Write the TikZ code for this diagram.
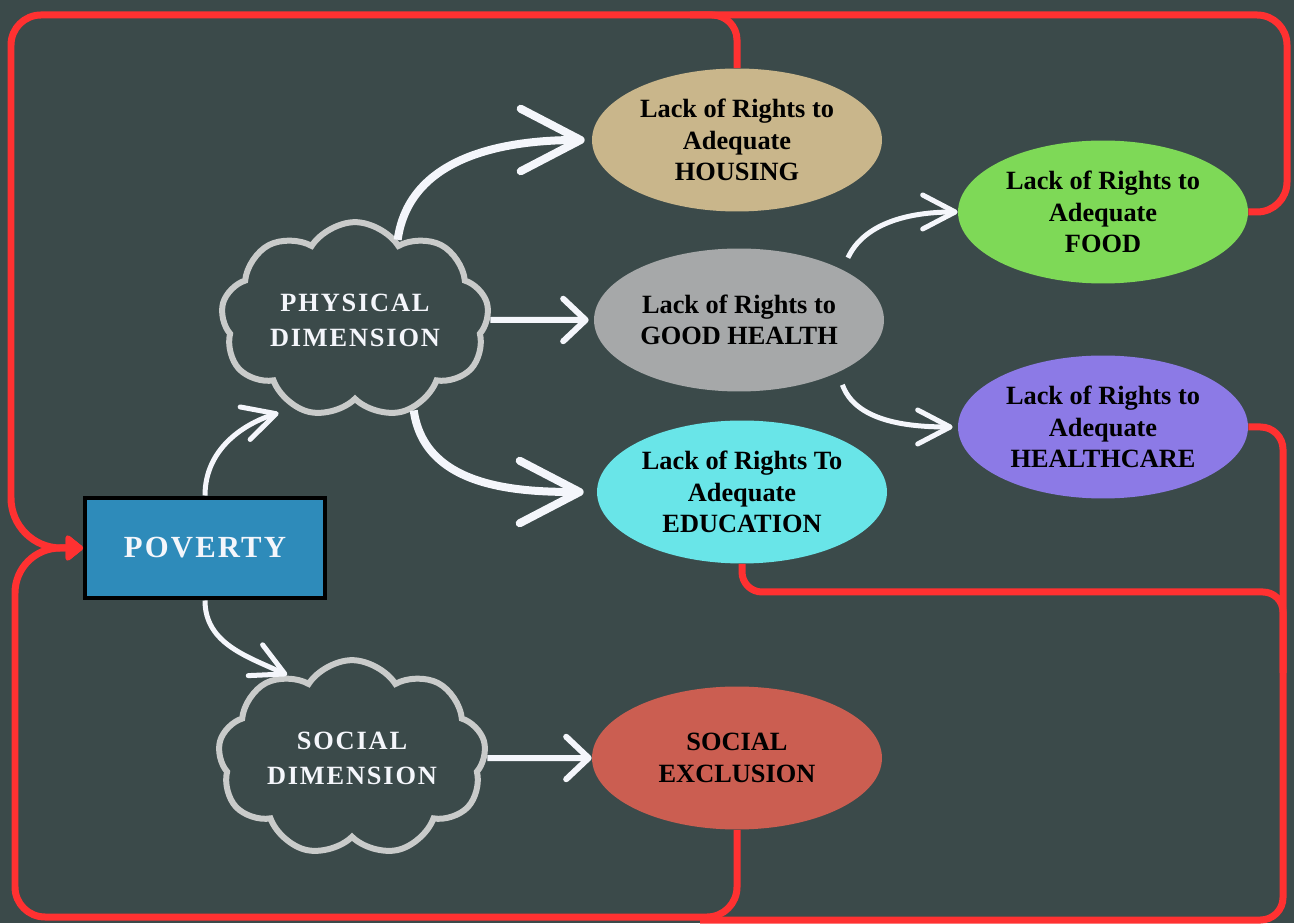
\documentclass[tikz,border=0pt]{standalone}
\usepackage{fontspec}
\setmainfont{Liberation Serif}
\newfontfamily\spacedfont[LetterSpace=7]{Liberation Serif}
\usepackage{tikz}
\usetikzlibrary{positioning, arrows.meta, shapes.symbols, shapes.geometric}
\definecolor{povbg}{HTML}{3B4A4A}
\definecolor{povred}{HTML}{FF3131}
\definecolor{povblue}{HTML}{2E8BBA}
\definecolor{povcloud}{HTML}{C9CBCA}
\definecolor{povwhite}{HTML}{F4F6FB}
\definecolor{povhousing}{HTML}{C9B68B}
\definecolor{povhealth}{HTML}{A6A8A9}
\definecolor{poveducation}{HTML}{69E5E8}
\definecolor{povfood}{HTML}{7ED957}
\definecolor{povhealthcare}{HTML}{8C7AE6}
\definecolor{povexclusion}{HTML}{CB5E51}

\tikzset{
  rights/.style={ellipse, minimum width=5.8cm, minimum height=2.86cm, inner sep=0pt,
    align=center, text=black, font=\fontsize{15}{18}\selectfont\bfseries},
  dimcloud/.style={cloud, cloud puffs=9, cloud puff arc=115, aspect=1.5, draw=povcloud, line width=0.12cm,
    minimum width=5.36cm, minimum height=3.56cm, inner sep=0pt, align=center, text=povwhite,
    font=\spacedfont\fontsize{15}{20}\selectfont\bfseries},
  feedback/.style={draw=povred, line width=0.14cm},
  bigarrow/.style={draw=povwhite, line width=0.16cm, -{Straight Barb[length=1.2cm, width=1.25cm, round]}},
  midarrow/.style={draw=povwhite, line width=0.12cm, -{Straight Barb[length=0.45cm, width=0.85cm, round]}},
  smallarrow/.style={draw=povwhite, line width=0.1cm, -{Straight Barb[length=0.65cm, width=0.68cm, round]}}
}

\begin{document}
\begin{tikzpicture}[x=0.02cm, y=0.02cm]
  \useasboundingbox (0,0) rectangle (1294,923);
  \fill[povbg] (0,0) rectangle (1294,923);

  \node[draw=black, line width=0.08cm, fill=povblue, minimum width=4.8cm, minimum height=2.02cm,
    text=povwhite, font=\spacedfont\fontsize{17.5}{20}\selectfont\bfseries] (poverty) at (205,375) {POVERTY};
  \node[dimcloud] (phys) at (355,603) {PHYSICAL\\DIMENSION};
  \node[dimcloud] (social) at (352,165) {SOCIAL\\DIMENSION};

  \foreach \name/\pos/\col/\txt in {
      housing/{737,783}/povhousing/{Lack of Rights to\\Adequate\\HOUSING},
      health/{739,603}/povhealth/{Lack of Rights to\\GOOD HEALTH},
      education/{742,431}/poveducation/{Lack of Rights To\\Adequate\\EDUCATION},
      food/{1103,711}/povfood/{Lack of Rights to\\Adequate\\FOOD},
      healthcare/{1103,496}/povhealthcare/{Lack of Rights to\\Adequate\\HEALTHCARE},
      exclusion/{737,165}/povexclusion/{SOCIAL\\EXCLUSION}}{
    \node[rights, fill=\col] (\name) at (\pos) {\txt};
  }

  \draw[bigarrow, shorten >=0.14cm] (phys.62) to[out=82, in=180] (housing.west);
  \draw[midarrow, shorten >=0.1cm] (phys.east) -- (health.west);
  \draw[bigarrow, shorten >=0.26cm] (phys.-57) to[out=-82, in=180] (education.west);
  \draw[smallarrow, shorten <=0.26cm] (health.26) to[out=65, in=180] (food.west);
  \draw[smallarrow, shorten <=0.26cm, shorten >=0.1cm] (health.-28) to[out=-70, in=180] (healthcare.west);
  \draw[smallarrow, shorten >=0.3cm] (poverty.north) to[out=90, in=197] (phys.235);
  \draw[smallarrow] (poverty.south) to[out=-90, in=155] (social.128);
  \draw[midarrow] (social.east) -- (exclusion.west);

  \coordinate (topjoin) at (690,908);
  \coordinate (botjoin) at (700,3);
  \coordinate (sidejoin) at (1283,250);
  \draw[feedback] (housing.north) [rounded corners=0.5cm] |- (topjoin);
  \draw[feedback] (education.south) [rounded corners=0.4cm] |- (1283,331) [rounded corners=0.9cm] -- (sidejoin);
  \draw[feedback] (healthcare.east) [rounded corners=0.45cm] -- (1283,496) -- (1283,3) [rounded corners=0.9cm] -- (botjoin);
  \draw[feedback, -{Triangle[length=0.38cm, width=0.58cm, round]}] (food.east) [rounded corners=0.6cm]
    -- (1287,711) -- (1287,908) -- (11,908) [rounded corners=1cm] -- (11,375) [rounded corners=0.45cm] -- (poverty.west);
  \draw[feedback, -{Triangle[length=0.38cm, width=0.58cm, round]}] (exclusion.south) [rounded corners=0.6cm]
    |- (15,6) [rounded corners=0.9cm] -- (15,375) [rounded corners=0.45cm] -- (poverty.west);
\end{tikzpicture}
\end{document}
